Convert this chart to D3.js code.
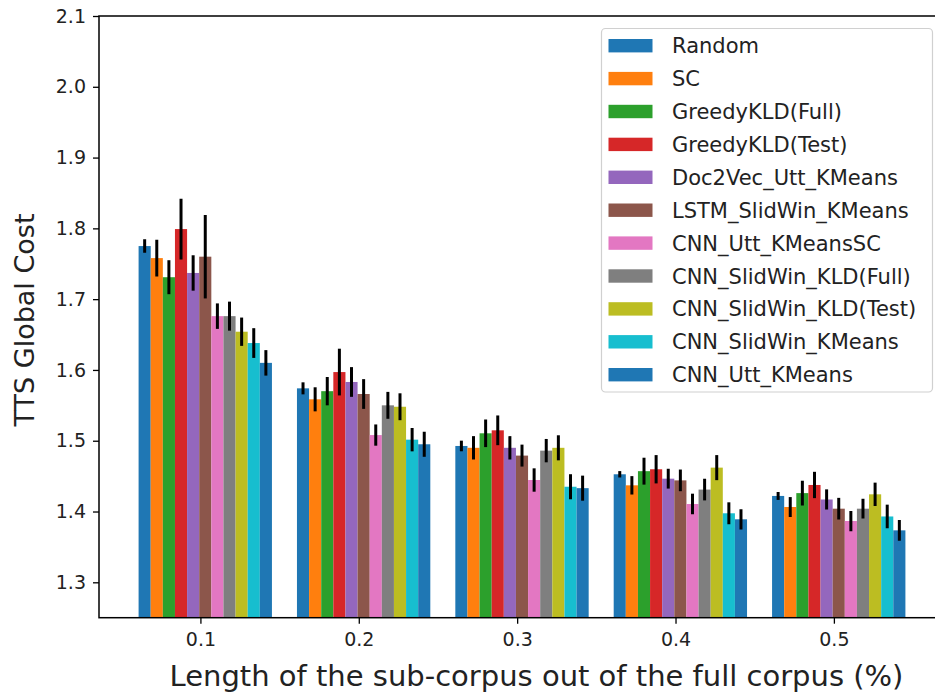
<!DOCTYPE html>
<html>
<head>
<meta charset="utf-8">
<script src="https://cdn.jsdelivr.net/npm/d3@7"></script>
<style>
  body { margin: 0; background: #fff; }
  svg { display: block; font-family: "DejaVu Sans", sans-serif; }
</style>
</head>
<body>
<div id="chart"></div>
<script>
// sub-corpus lengths (x groups)
const groups = ["0.1", "0.2", "0.3", "0.4", "0.5"];

const methods = [
    "Random", "SC", "GreedyKLD(Full)", "GreedyKLD(Test)", "Doc2Vec_Utt_KMeans",
    "LSTM_SlidWin_KMeans", "CNN_Utt_KMeansSC", "CNN_SlidWin_KLD(Full)",
    "CNN_SlidWin_KLD(Test)", "CNN_SlidWin_KMeans", "CNN_Utt_KMeans"
];

const colors = [
    "#1f77b4", "#ff7f0e", "#2ca02c", "#d62728", "#9467bd", "#8c564b",
    "#e377c2", "#7f7f7f", "#bcbd22", "#17becf", "#1f77b4"
];

// mean cost, one row per group, in method order
const meanCost = [
    [1.775, 1.758, 1.731, 1.799, 1.737, 1.760, 1.676, 1.676, 1.654, 1.638, 1.610],
    [1.574, 1.5585, 1.570, 1.597, 1.583, 1.566, 1.508, 1.550, 1.548, 1.5015, 1.495],
    [1.4926, 1.490, 1.5105, 1.5147, 1.490, 1.479, 1.4445, 1.486, 1.490, 1.435, 1.433],
    [1.4526, 1.437, 1.457, 1.4597, 1.4464, 1.444, 1.4106, 1.431, 1.462, 1.3975, 1.389],
    [1.422, 1.4064, 1.426, 1.4375, 1.417, 1.404, 1.3866, 1.404, 1.4243, 1.393, 1.3734]
];

// half length of each error bar
const errCost = [
    [0.0095, 0.026, 0.024, 0.043, 0.025, 0.059, 0.018, 0.0205, 0.020, 0.021, 0.018],
    [0.0085, 0.017, 0.020, 0.033, 0.021, 0.021, 0.015, 0.019, 0.019, 0.0165, 0.0177],
    [0.0075, 0.0165, 0.0195, 0.021, 0.0165, 0.0155, 0.0165, 0.0165, 0.0177, 0.0177, 0.0177],
    [0.0045, 0.013, 0.019, 0.020, 0.014, 0.0153, 0.0146, 0.0153, 0.0177, 0.0155, 0.0143],
    [0.0056, 0.014, 0.0175, 0.0186, 0.0143, 0.0153, 0.0143, 0.014, 0.0165, 0.0167, 0.0146]
];

const yTicks = [1.3, 1.4, 1.5, 1.6, 1.7, 1.8, 1.9, 2.0, 2.1];

const width = 935, height = 693;
const plotLeft = 99, plotRight = 945, plotTop = 16, plotBottom = 617.7;

const svg = d3.select("#chart").append("svg")
    .attr("width", width)
    .attr("height", height);

const x0 = d3.scaleBand()
    .domain(groups)
    .range([plotLeft, plotRight])
    .paddingInner(0.158)
    .paddingOuter(0.25);
const x1 = d3.scaleBand()
    .domain(d3.range(methods.length))
    .range([0, x0.bandwidth()]);
const y = d3.scaleLinear()
    .domain([1.25, 2.1])
    .range([plotBottom, plotTop]);

svg.append("clipPath").attr("id", "plot-clip")
    .append("rect")
    .attr("x", plotLeft).attr("y", plotTop)
    .attr("width", plotRight - plotLeft).attr("height", plotBottom - plotTop);

const plot = svg.append("g").attr("clip-path", "url(#plot-clip)");

const rows = [];
groups.forEach((g, gi) => {
    methods.forEach((m, mi) => {
        rows.push({ g: g, mi: mi, v: meanCost[gi][mi], e: errCost[gi][mi] });
    });
});

plot.selectAll("rect.bar")
    .data(rows)
    .enter()
    .append("rect")
    .attr("class", "bar")
    .attr("x", d => x0(d.g) + x1(d.mi))
    .attr("width", x1.bandwidth())
    .attr("y", d => y(d.v))
    .attr("height", d => plotBottom - y(d.v))
    .attr("fill", d => colors[d.mi]);

plot.selectAll("line.err")
    .data(rows)
    .enter()
    .append("line")
    .attr("class", "err")
    .attr("x1", d => x0(d.g) + x1(d.mi) + x1.bandwidth() / 2)
    .attr("x2", d => x0(d.g) + x1(d.mi) + x1.bandwidth() / 2)
    .attr("y1", d => y(d.v - d.e))
    .attr("y2", d => y(d.v + d.e))
    .attr("stroke", "#000")
    .attr("stroke-width", 3);

// axes
const tickOffset = x1.step() * 5.1;
const xTickScale = d3.scalePoint()
    .domain(groups)
    .range([x0(groups[0]) + tickOffset, x0(groups[groups.length - 1]) + tickOffset]);
const xAxis = d3.axisBottom(xTickScale)
    .tickSize(6)
    .tickPadding(9)
    .tickSizeOuter(0);
const yAxis = d3.axisLeft(y)
    .tickValues(yTicks)
    .tickFormat(d3.format(".1f"))
    .tickSize(6)
    .tickPadding(7)
    .tickSizeOuter(0);

const gx = svg.append("g")
    .attr("transform", "translate(0," + plotBottom + ")")
    .call(xAxis);
const gy = svg.append("g")
    .attr("transform", "translate(" + plotLeft + ",0)")
    .call(yAxis);

[gx, gy].forEach(g => {
    g.select(".domain").remove();
    g.selectAll(".tick line").attr("stroke", "#000").attr("stroke-width", 1.3);
    g.selectAll(".tick text")
        .attr("fill", "#222")
        .style("font-size", "19px")
        .style("font-family", "DejaVu Sans");
});

// spines
svg.append("rect")
    .attr("x", plotLeft).attr("y", plotTop)
    .attr("width", plotRight - plotLeft).attr("height", plotBottom - plotTop)
    .attr("fill", "none")
    .attr("stroke", "#000")
    .attr("stroke-width", 1.5);

svg.append("text")
    .attr("x", 536.5)
    .attr("y", 686)
    .attr("text-anchor", "middle")
    .style("font-size", "29px")
    .attr("fill", "#222")
    .text("Length of the sub-corpus out of the full corpus (%)");

svg.append("text")
    .attr("transform", "translate(34,320) rotate(-90)")
    .attr("text-anchor", "middle")
    .style("font-size", "27px")
    .attr("fill", "#222")
    .text("TTS Global Cost");

// legend
const legend = svg.append("g").attr("id", "legend");
legend.append("rect")
    .attr("x", 601.5).attr("y", 28.5)
    .attr("width", 331).attr("height", 363.5)
    .attr("rx", 4)
    .attr("fill", "#fff").attr("fill-opacity", 0.8)
    .attr("stroke", "#d0d0d0")
    .attr("stroke-width", 1.2);

const items = legend.selectAll("g.item")
    .data(methods)
    .enter()
    .append("g")
    .attr("class", "item")
    .attr("transform", (d, i) => "translate(0," + (45.7 + i * 32.9) + ")");
items.append("rect")
    .attr("x", 608.5).attr("y", -6.7)
    .attr("width", 44).attr("height", 13.4)
    .attr("fill", (d, i) => colors[i]);
items.append("text")
    .attr("x", 672)
    .attr("dy", "0.36em")
    .style("font-size", "21px")
    .attr("fill", "#222")
    .text(d => d);
</script>
</body>
</html>
